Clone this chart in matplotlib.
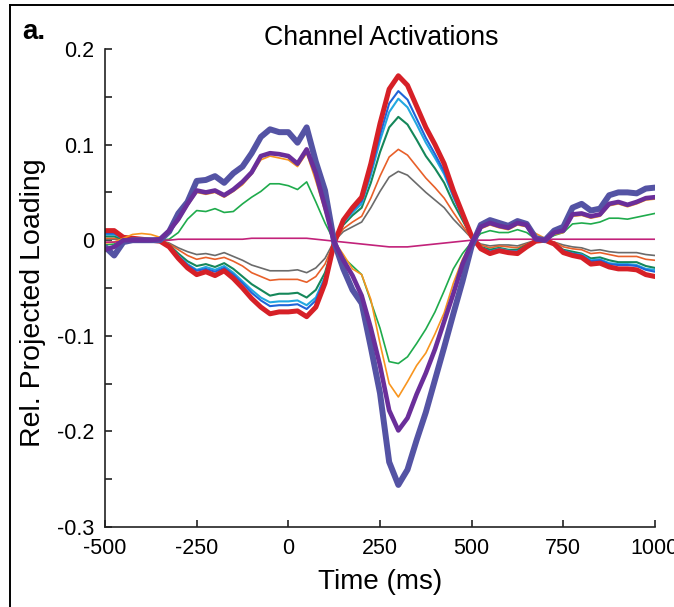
import numpy as np
import matplotlib
matplotlib.use('Agg')
import matplotlib.pyplot as plt
from matplotlib.lines import Line2D

plt.rcParams['font.family'] = ['Liberation Sans', 'DejaVu Sans']

# time grid (ms) and channel loadings (x 1e-3)
time_ms = np.arange(-500, 1001, 25)

red = [10, 10, 3, 2, 1, 0, -1, -7, -19, -29, -36, -33, -37, -32, -40, -50, -61, -70, -77, -75,
       -75, -74, -80, -70, -45, -3, 21, 34, 45, 80, 122, 158, 172, 162, 140, 118, 100, 80, 52, 28,
       4, -9, -14, -11, -13, -14, -7, -1, 0, -4, -13, -16, -18, -25, -24, -28, -30, -30, -31, -36, -38]
blue = [7, 7, 2, 1, 1, 0, -1, -6, -17, -26, -32, -30, -33, -29, -36, -45, -55, -63, -69, -68,
        -68, -67, -72, -63, -40, -3, 19, 31, 41, 72, 110, 143, 156, 147, 127, 107, 90, 72, 47, 25,
        4, -8, -12, -10, -12, -12, -6, -1, 0, -3, -11, -14, -16, -22, -21, -25, -26, -26, -27, -31, -33]
cyan = [6, 6, 2, 1, 1, 0, -1, -6, -16, -25, -31, -28, -31, -27, -34, -43, -52, -60, -65, -64,
        -64, -63, -68, -60, -38, -3, 18, 29, 38, 68, 104, 134, 148, 139, 121, 102, 86, 69, 45, 24,
        3, -8, -12, -9, -11, -12, -6, -1, 0, -3, -11, -14, -15, -21, -20, -24, -25, -25, -26, -30, -31]
dark_green = [4, 4, 1, 1, 0, 0, -1, -5, -14, -22, -27, -25, -28, -24, -30, -38, -46, -52, -58, -56,
              -56, -55, -60, -52, -34, -2, 16, 26, 34, 60, 92, 118, 129, 121, 105, 88, 75, 60, 39, 21,
              3, -7, -10, -8, -10, -10, -5, -1, 0, -3, -10, -12, -14, -19, -18, -21, -23, -23, -23, -27, -29]
orange_red = [2, 2, 1, 0, 0, 0, 0, -4, -10, -16, -20, -18, -20, -18, -22, -27, -34, -38, -42, -41,
              -41, -41, -44, -38, -25, -2, 12, 19, 25, 44, 67, 87, 95, 89, 77, 65, 55, 44, 29, 15,
              2, -5, -8, -6, -7, -8, -4, -1, 0, -2, -7, -9, -10, -14, -13, -15, -17, -17, -17, -20, -21]
gray = [1, 1, 0, 0, 0, 0, 0, -3, -8, -12, -15, -14, -16, -13, -17, -21, -26, -29, -32, -32,
        -32, -31, -34, -29, -19, -1, 9, 14, 19, 34, 51, 66, 72, 68, 59, 50, 42, 34, 22, 12,
        2, -4, -6, -5, -5, -6, -3, 0, 0, -2, -5, -7, -8, -11, -10, -12, -13, -13, -13, -15, -16]
slate = [-7, -16, -2, 0, 0, 0, 0, 9, 28, 40, 62, 63, 67, 60, 70, 77, 91, 108, 116, 113,
         113, 102, 118, 82, 52, -2, -30, -52, -66, -112, -160, -232, -256, -240, -209, -180, -146, -112, -77, -43,
         -6, 16, 21, 18, 15, 20, 17, 2, 0, 10, 14, 34, 38, 31, 33, 47, 50, 50, 49, 54, 55]
purple = [-10, -7, 0, 0, 0, 0, 1, 10, 22, 38, 52, 50, 52, 47, 53, 61, 71, 88, 91, 90,
          88, 80, 95, 70, 35, -2, -21, -37, -58, -92, -131, -178, -199, -186, -161, -139, -114, -85, -56, -25,
          -3, 14, 18, 15, 13, 18, 16, 1, 0, 8, 10, 27, 28, 25, 27, 38, 40, 37, 40, 44, 45]
orange = [-3, -2, 2, 6, 7, 6, 3, 8, 20, 36, 50, 48, 50, 45, 51, 58, 69, 84, 88, 86,
          84, 77, 91, 62, 30, -1, -15, -30, -36, -62, -108, -150, -164, -148, -131, -118, -98, -76, -45, -20,
          -2, 12, 16, 13, 11, 16, 14, 7, 2, 6, 8, 25, 26, 23, 25, 36, 38, 35, 38, 42, 43]
green = [-5, -4, 0, 0, 0, 0, 0, 1, 8, 22, 31, 30, 33, 29, 30, 38, 45, 51, 59, 59,
         57, 53, 61, 40, 18, -1, -18, -27, -36, -64, -92, -127, -129, -122, -108, -93, -75, -53, -30, -14,
         -2, 7, 10, 8, 8, 11, 8, 1, 0, 5, 8, 17, 18, 17, 19, 23, 23, 22, 24, 26, 28]
magenta = [-2, -2, -1, -1, 0, 0, 0, 0, 1, 1, 1, 1, 1, 1, 1, 1, 2, 2, 2, 2,
           2, 2, 2, 1, 0, -1, -2, -3, -4, -5, -6, -7, -7, -7, -6, -5, -4, -3, -2, -1,
           0, 0, 0, 1, 1, 1, 1, 1, 1, 1, 1, 1, 1, 1, 1, 1, 1, 1, 1, 1, 1]

series = [
    (gray, '#6b6b6b', 1.2),
    (orange_red, '#e8602a', 1.2),
    (dark_green, '#15875a', 1.5),
    (cyan, '#22a8e0', 1.5),
    (blue, '#1f64d8', 1.5),
    (red, '#d62027', 3.6),
    (green, '#1fab4c', 1.2),
    (orange, '#f8951f', 1.2),
    (magenta, '#c2227a', 1.2),
    (slate, '#5453a4', 4.3),
    (purple, '#6a2e9a', 3.3),
]

fig = plt.figure(figsize=(6.74, 6.07), dpi=100)
ax = fig.add_axes([0.1558, 0.1318, 0.816, 0.7875])

for vals, color, lw in series:
    ax.plot(time_ms, np.array(vals) / 1000, color=color, lw=lw,
            solid_capstyle='round', solid_joinstyle='round')

ax.set_xlim(-500, 1000)
ax.set_ylim(-0.3, 0.2)
ax.set_xticks([-500, -250, 0, 250, 500, 750, 1000])
ax.set_xticklabels(['-500', '-250', '0', '250', '500', '750', '1000'])
ax.set_yticks([-0.3, -0.2, -0.1, 0, 0.1, 0.2])
ax.set_yticklabels(['-0.3', '-0.2', '-0.1', '0', '0.1', '0.2'])
ax.set_yticks(np.arange(-0.3, 0.2001, 0.05), minor=True)
ax.tick_params(axis='both', which='both', direction='in', length=5, width=1.2,
               colors='#222222', labelcolor='black', labelsize=15.5, pad=8)
ax.tick_params(axis='x', pad=8)
for side in ['top', 'right']:
    ax.spines[side].set_visible(False)
for side in ['left', 'bottom']:
    ax.spines[side].set_linewidth(1.2)
    ax.spines[side].set_color('#222222')

ax.set_xlabel('Time (ms)', fontsize=20, labelpad=7)
ax.set_ylabel('Rel. Projected Loading', fontsize=20.5)
ax.yaxis.set_label_coords(-0.107, 0.469)
fig.text(0.566, 0.926, 'Channel Activations', fontsize=19.3, ha='center', va='baseline')
fig.text(0.033, 0.935, 'a.', fontsize=20, fontweight='bold', ha='left', va='baseline')

# panel frame (top and left edges visible)
fig.add_artist(Line2D([10 / 674, 10 / 674], [0, 1 - 5 / 607], transform=fig.transFigure,
                      color='black', lw=1.4))
fig.add_artist(Line2D([10 / 674, 1], [1 - 5 / 607, 1 - 5 / 607], transform=fig.transFigure,
                      color='black', lw=1.4))

fig.savefig('out.png', dpi=100)
